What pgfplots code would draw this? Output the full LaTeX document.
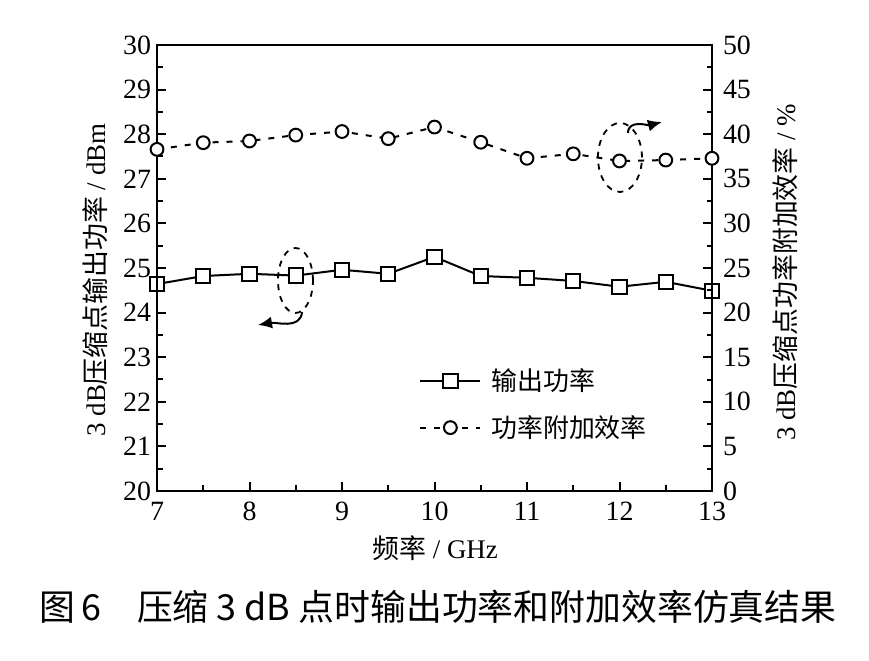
\documentclass[border=0pt]{standalone}
\usepackage{fontspec}
\setmainfont{Liberation Serif}
\newfontfamily\cjk{Noto Sans CJK SC}
\usepackage{pgfplots}
\usepackage{pgfplotstable}
\pgfplotsset{compat=1.18}
\usetikzlibrary{arrows.meta}

\pgfplotstableread{
x pout
7    24.64
7.5  24.82
8    24.87
8.5  24.83
9    24.96
9.5  24.87
10   25.25
10.5 24.82
11   24.78
11.5 24.71
12   24.58
12.5 24.69
13   24.49
}\pouttable

\pgfplotstableread{
x pae
7    38.3
7.5  39.05
8    39.24
8.5  39.9
9    40.3
9.5  39.5
10   40.8
10.5 39.1
11   37.3
11.5 37.8
12   37.0
12.5 37.1
13   37.3
}\paetable

\begin{document}
\begin{tikzpicture}
\useasboundingbox (-78.5bp,-85bp) rectangle (356bp,245.5bp);
\pgfplotsset{
  common/.style={
    scale only axis, width=277.5bp, height=223bp,
    xmin=7, xmax=13,
    clip=false,
    axis line style={line width=1.2bp},
    every tick/.style={line width=1bp, black},
    major tick length=4.5bp, minor tick length=2.75bp,
    tick align=inside,
    tick label style={font=\fontsize{14}{15}\selectfont},
    /pgf/number format/assume math mode=true,
    label style={font=\fontsize{13.5}{16}\selectfont},
  }
}
\begin{axis}[common,
  ymin=20, ymax=30, ytick={20,21,...,30}, xtick={7,8,...,13},
  minor x tick num=1, minor y tick num=1,
  xtick pos=bottom, ytick pos=left,
  xlabel={{\cjk 频率} / GHz},
  ylabel={3 dB{\cjk 压缩点输出功率} / dBm},
  xlabel style={at={(axis description cs:0.501,-0.128)}, anchor=center},
  ylabel style={at={(axis description cs:-0.112,0.473)}, anchor=center},
  yticklabel style={xshift=0.5bp},
  xticklabel style={yshift=-2bp},
]
\addplot[black, line width=1bp, mark=square*, mark size=3.6bp,
  mark options={fill=white, solid, line width=1bp}] table[x=x, y=pout] {\pouttable};
\draw[line width=0.9bp, dash pattern=on 3bp off 3bp] (axis cs:8.497,24.72) ellipse [x radius=8.75bp, y radius=16.25bp];
\draw[line width=1bp, -{Latex[length=7bp,width=6bp]}] (axis cs:8.568,24.013) to[out=-95,in=10] (axis cs:8.092,23.722);
\draw[line width=0.9bp, dash pattern=on 3bp off 3bp] (axis cs:12.005,27.478) ellipse [x radius=11bp, y radius=17.25bp];
\draw[line width=1bp, -{Latex[length=7bp,width=6bp]}] (axis cs:12.092,28.027) to[out=90,in=195] (axis cs:12.459,28.274);
\end{axis}
\begin{axis}[common,
  ymin=0, ymax=50, ytick={0,5,...,50}, minor y tick num=1,
  xtick=\empty, ytick pos=right,
  ylabel={3 dB{\cjk 压缩点功率附加效率} / \%},
  ylabel style={at={(axis description cs:1.1315,0.49)}, anchor=center},
  yticklabel style={xshift=2bp},
  legend style={at={(axis description cs:0.472,0.285)}, anchor=north west,
    draw=none, fill=none, font=\fontsize{13}{15}\selectfont,
    row sep=7bp, inner sep=0pt, cells={anchor=west},
    nodes={inner xsep=5bp}},
  legend image code/.code={\draw[mark repeat=2,mark phase=2,#1] plot coordinates {(0bp,0bp) (15bp,0bp) (30bp,0bp)};},
]
\addlegendimage{black, line width=1bp, mark=square*, mark size=3.6bp, mark options={fill=white, solid, line width=1bp}}
\addlegendentry{\cjk 输出功率}
\addplot[black, line width=1bp, dash pattern=on 3bp off 4bp, mark=*, mark size=3.2bp,
  mark options={fill=white, solid, line width=1bp}] table[x=x, y=pae] {\paetable};
\addlegendentry{\cjk 功率附加效率}
\end{axis}
\node[font=\cjk\fontsize{18}{20}\selectfont, anchor=center] at (140.5bp,-58bp) {图\,6\quad 压缩 3 dB 点时输出功率和附加效率仿真结果};
\end{tikzpicture}
\end{document}
